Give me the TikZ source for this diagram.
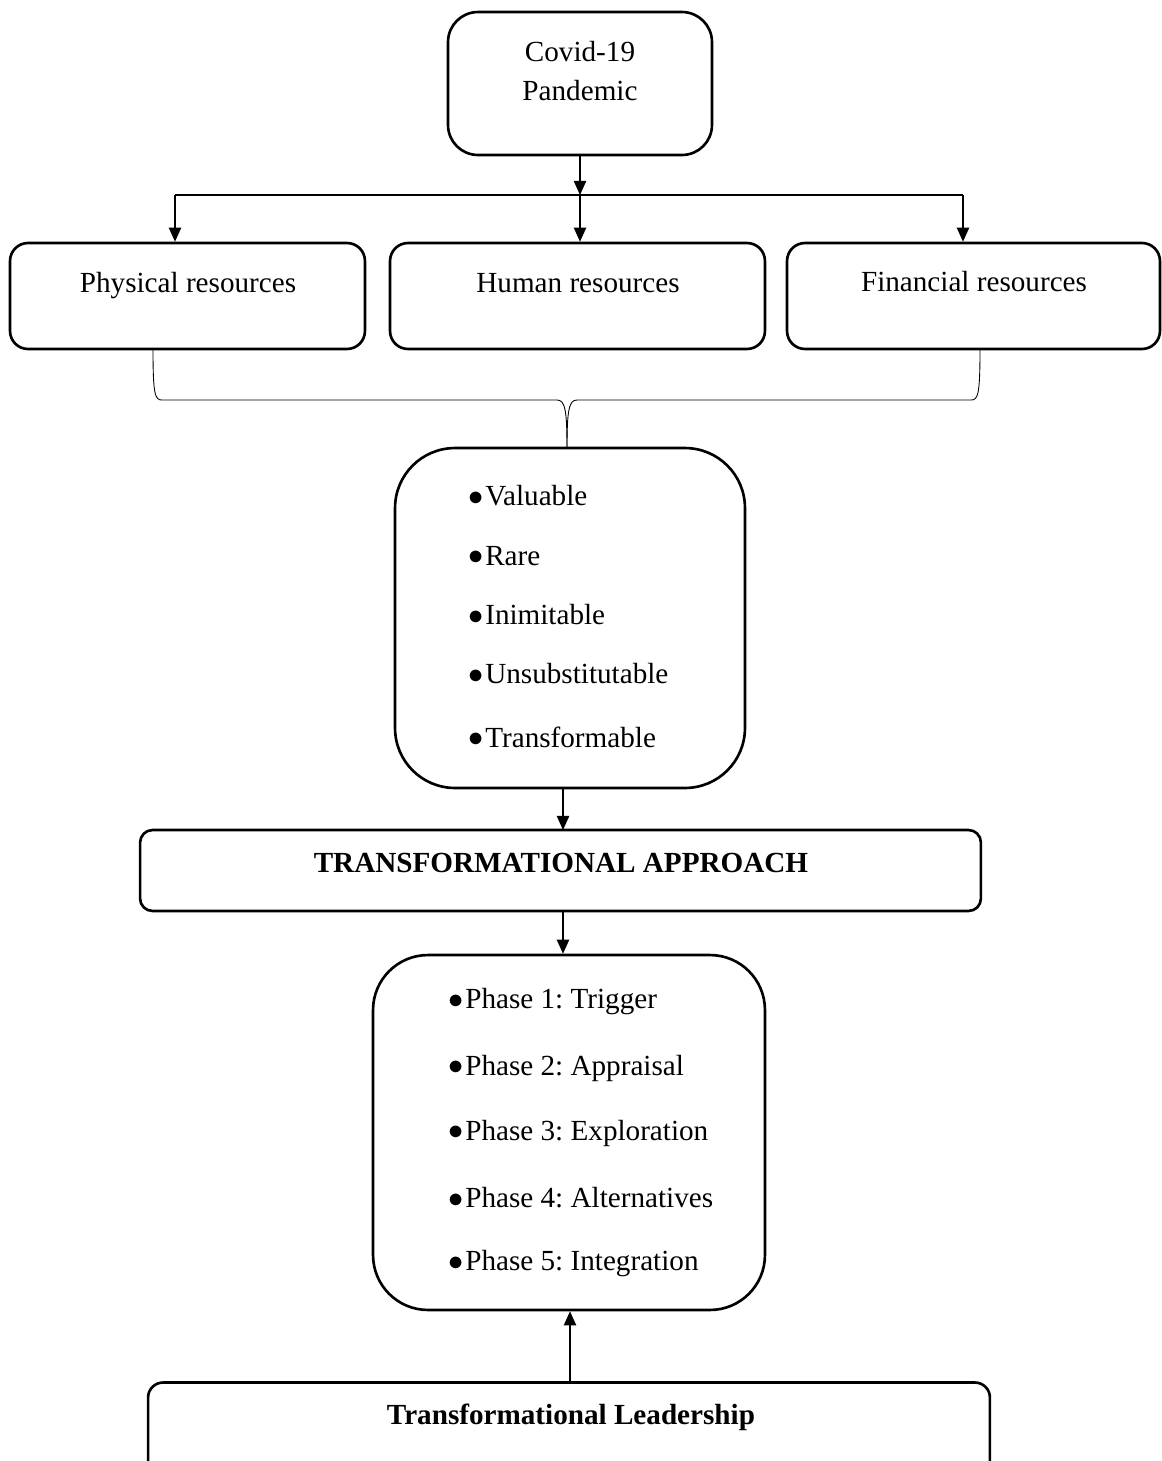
\documentclass[tikz,border=0pt]{standalone}
\usepackage{fontspec}
\setmainfont{Liberation Serif}
\usepackage{tikz}
\usetikzlibrary{arrows.meta, positioning, calc}
\frenchspacing

\tikzset{
  box/.style={draw, line width=1.5pt, rounded corners=0.36cm, inner sep=0pt},
  txt/.style={font=\fontsize{16.6}{20}\selectfont, inner sep=0pt},
  btxt/.style={txt, font=\fontsize{16.6}{20}\selectfont\bfseries},
  item/.style={txt, anchor=west},
  arr/.style={-{Triangle[length=8pt, width=7pt]}, line width=0.8pt},
  link/.style={line width=0.8pt},
}
\newcommand{\bul}{\raisebox{0.5pt}{$\bullet$}\kern1pt}

\begin{document}
\begin{tikzpicture}[x=0.02cm, y=-0.02cm]
\clip (0,0) rectangle (1162,1461);

% Covid box
\node[box, rounded corners=0.6cm, minimum width=5.28cm, minimum height=2.86cm] (covid) at (580,83.5) {};
\node[txt, align=center] (covidtxt) at (580,71) {Covid-19\\[2pt]Pandemic};

% Resource boxes
\node[box, minimum width=7.1cm, minimum height=2.12cm] (phys) at (187.5,296) {};
\node[box, minimum width=7.5cm, minimum height=2.12cm] (human) at (577.5,296) {};
\node[box, minimum width=7.46cm, minimum height=2.12cm] (fin) at (973.5,296) {};
\node[txt] (physlbl) at (188,286) {Physical resources};
\node[txt] (humanlbl) at (578,283) {Human resources};
\node[txt] (finlbl) at (974,282) {Financial resources};

% Split from Covid box to resources
\coordinate (split) at (580,195);
\coordinate (splitL) at (175,195);
\coordinate (splitR) at (963,195);
\draw[arr] (covid.south) -- (split);
\draw[link] (splitL) -- (splitR);
\draw[arr] (split) -- (split |- human.north);
\draw[arr] (splitL) -- (splitL |- phys.north);
\draw[arr] (splitR) -- (splitR |- fin.north);

% VRIN box
\node[box, rounded corners=1.2cm, minimum width=7cm, minimum height=6.8cm] (vrin) at (570,618) {};
\foreach \lbl/\yy [count=\i] in {Valuable/496, Rare/556, Inimitable/615, Unsubstitutable/674, Transformable/737}
  \node[item] (v\i) at (468,\yy) {\bul\lbl};

% Brace joining the resources
\coordinate (bL) at (153,349);
\coordinate (bR) at (980,349);
\coordinate (bM) at (567,400);
\draw[line width=0.5pt] (bL) .. controls (153,395) and (155,400) .. (162,400) -- (557,400)
  .. controls (565,400) and (567,410) .. (567,448);
\draw[line width=0.5pt] (bR) .. controls (980,395) and (978,400) .. (971,400) -- (577,400)
  .. controls (569,400) and (567,410) .. (567,448);

% Transformational approach
\node[box, rounded corners=0.25cm, minimum width=16.82cm, minimum height=1.62cm] (ta) at (560.5,870.5) {};
\node[btxt] (talbl) at (561,863) {TRANSFORMATIONAL APPROACH};
\draw[arr] (563,788) -- (563,830);

% Phase box
\node[box, rounded corners=1.1cm, minimum width=7.84cm, minimum height=7.1cm] (phase) at (569,1132.5) {};
\foreach \lbl/\yy [count=\i] in {Phase 1: Trigger/1002, Phase 2: Appraisal/1068, Phase 3: Exploration/1133, Phase 4: Alternatives/1198, Phase 5: Integration/1264}
  \node[item] (p\i) at (448,\yy) {\bul\lbl};
\draw[arr] (ta.south -| 563,0) -- (phase.north -| 563,0);

% Transformational leadership
\node[box, rounded corners=0.3cm, minimum width=16.84cm, minimum height=1.9cm] (tl) at (569,1430) {};
\node[btxt] (tllbl) at (571,1417) {Transformational Leadership};
\draw[arr] (tl.north -| 570,0) -- (phase.south -| 570,0);
\end{tikzpicture}
\end{document}
